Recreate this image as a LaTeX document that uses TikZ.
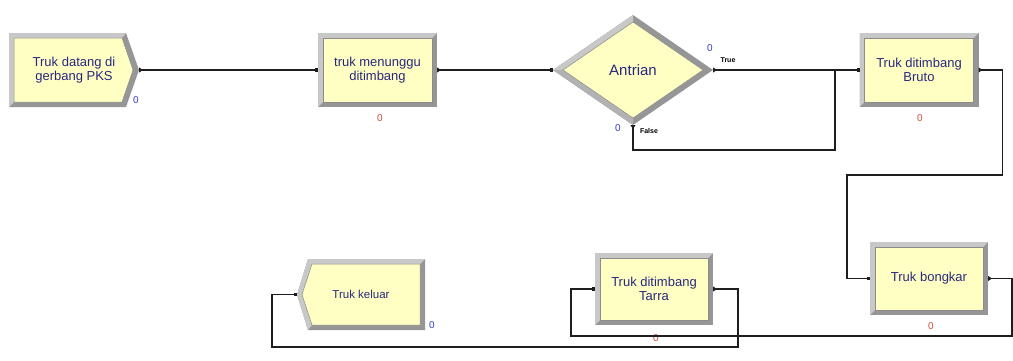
\documentclass[tikz,border=0pt]{standalone}
\usepackage{fontspec}
\setmainfont{Liberation Sans}
\usetikzlibrary{arrows.meta,backgrounds}

\definecolor{boxyellow}{HTML}{FFFFC4}
\definecolor{bevlight}{HTML}{C8C8C8}
\definecolor{bevmid}{HTML}{B2B2B2}
\definecolor{bevdark}{HTML}{969696}
\definecolor{bevedge}{HTML}{8C8C8C}
\definecolor{labelnavy}{HTML}{28287F}
\definecolor{cntblue}{HTML}{3A3ACF}
\definecolor{cntred}{HTML}{D04A3A}
\definecolor{wiregray}{HTML}{1E1E1E}

% bevelled frame behind a rectangular module node
\newcommand\moduleframe[1]{%
  \fill[bevdark] (#1.north west) rectangle (#1.south east);
  \fill[bevlight] (#1.north west) -- (#1.north east) -- ([shift={(-5,5)}]#1.north east)
    -- ([shift={(5,5)}]#1.north west) -- ([shift={(5,-5)}]#1.south west) -- (#1.south west) -- cycle;
  \filldraw[fill=boxyellow, draw=bevedge, line width=0.5pt]
    ([shift={(5,5)}]#1.north west) rectangle ([shift={(-5,-5)}]#1.south east);
}

\begin{document}
\begin{tikzpicture}[x=1pt,y=-1pt,
  module/.style={rectangle, minimum width=119pt, minimum height=74pt, inner sep=0pt,
    outer sep=0pt, align=center, text=labelnavy, font=\fontsize{13}{13.5}\selectfont},
  wire/.style={draw=wiregray, line width=1.2pt},
  conn/.style={wire, {Triangle[reversed, length=4pt, width=5pt]}-{Square[length=3pt, width=3.5pt]}},
  connopen/.style={wire, {Triangle[reversed, length=4pt, width=5pt]}-},
  cntb/.style={text=cntblue, font=\fontsize{10}{10}\selectfont, inner sep=0pt},
  cntr/.style={text=cntred, font=\fontsize{10}{10}\selectfont, inner sep=0pt},
  branch/.style={text=black, font=\fontsize{7}{7}\selectfont\bfseries, inner sep=0pt}]
\useasboundingbox (0,0) rectangle (1013,360);

% ---- modules ----
\node[module, minimum width=130pt] (arrive) at (74,70) {Truk datang di\\gerbang PKS};
\node[module] (menunggu) at (377.5,70) {truk menunggu\\ditimbang};
\node[module, minimum width=160pt, minimum height=110pt,
      font=\fontsize{15}{15}\selectfont] (decide) at (633,70) {Antrian};
\node[module] (bruto) at (919,70) {Truk ditimbang\\Bruto};
\node[module, minimum width=118pt, minimum height=73pt] (bongkar) at (929,278.5) {Truk bongkar};
\node[module, minimum width=118pt, minimum height=72pt] (tarra) at (654,289) {Truk ditimbang\\Tarra};
\node[module, minimum width=128pt, minimum height=71pt,
      font=\fontsize{11.5}{12}\selectfont] (leave) at (361,294.5) {Truk keluar};

\begin{scope}[on background layer]
  % arrival: pentagon pointing right
  \fill[bevdark] (arrive.north west) -- ([xshift=-13pt]arrive.north east) -- (arrive.east)
    -- ([xshift=-13pt]arrive.south east) -- (arrive.south west) -- cycle;
  \fill[bevlight] (arrive.north west) -- ([xshift=-13pt]arrive.north east)
    -- ([shift={(-17,5)}]arrive.north east) -- ([shift={(5,5)}]arrive.north west)
    -- ([shift={(5,-5)}]arrive.south west) -- (arrive.south west) -- cycle;
  \filldraw[fill=boxyellow, draw=bevedge, line width=0.5pt]
    ([shift={(5,5)}]arrive.north west) -- ([shift={(-17,5)}]arrive.north east)
    -- ([xshift=-6pt]arrive.east) -- ([shift={(-17,-5)}]arrive.south east)
    -- ([shift={(5,-5)}]arrive.south west) -- cycle;

  % processes
  \moduleframe{menunggu}
  \moduleframe{bruto}
  \moduleframe{bongkar}
  \moduleframe{tarra}

  % decision diamond
  \fill[bevdark] (decide.north) -- (decide.east) -- (decide.south) -- (decide.west) -- cycle;
  \fill[bevlight] (decide.west) -- (decide.north) -- ([yshift=-7pt]decide.north)
    -- ([xshift=10pt]decide.west) -- cycle;
  \fill[bevmid] (decide.west) -- (decide.south) -- ([yshift=7pt]decide.south)
    -- ([xshift=10pt]decide.west) -- cycle;
  \filldraw[fill=boxyellow, draw=bevedge, line width=0.5pt]
    ([yshift=-7pt]decide.north) -- ([xshift=-10pt]decide.east)
    -- ([yshift=7pt]decide.south) -- ([xshift=10pt]decide.west) -- cycle;

  % departure: notched on the left
  \fill[bevdark] ([xshift=11pt]leave.north west) -- (leave.north east) -- (leave.south east)
    -- ([xshift=11pt]leave.south west) -- (leave.west) -- cycle;
  \fill[bevlight] ([xshift=11pt]leave.north west) -- (leave.north east)
    -- ([shift={(-5,5)}]leave.north east) -- ([shift={(15,5)}]leave.north west)
    -- ([xshift=5pt]leave.west) -- ([shift={(15,-5)}]leave.south west)
    -- ([xshift=11pt]leave.south west) -- (leave.west) -- cycle;
  \filldraw[fill=boxyellow, draw=bevedge, line width=0.5pt]
    ([shift={(15,5)}]leave.north west) -- ([shift={(-5,5)}]leave.north east)
    -- ([shift={(-5,-5)}]leave.south east) -- ([shift={(15,-5)}]leave.south west)
    -- ([xshift=5pt]leave.west) -- cycle;
\end{scope}

% ---- counters ----
\node[cntb] (arrive-n) at (136,100) {0};
\node[cntr] (menunggu-n) at (380,118) {0};
\node[cntb] (decide-true-n) at (710,48) {0};
\node[cntb] (decide-false-n) at (618,128) {0};
\node[cntr] (bruto-n) at (920,118) {0};
\node[cntr] (bongkar-n) at (931,326) {0};
\node[cntr] (tarra-n) at (656,338) {0};
\node[cntb] (leave-n) at (432,325) {0};

% ---- branch labels ----
\node[branch] (true-lbl) at (728,60) {True};
\node[branch] (false-lbl) at (649,131) {False};

% ---- connectors ----
\coordinate (merge) at (835,70);
\draw[conn] (arrive.east) -- (menunggu.west);
\draw[conn] (menunggu.east) -- (decide.west);
\draw[conn] (decide.east) -- (bruto.west);
\draw[connopen] (decide.south) -- ++(0,25) -| (merge);
\draw[conn] (bruto.east) -- ++(24,0) -- ++(0,105) -| ([xshift=-23pt]bongkar.west) -- (bongkar.west);
\draw[conn] (bongkar.east) -- ++(24,0) |- (571,336) |- (tarra.west);
\draw[conn] (tarra.east) -- ++(25,0) |- (272,347) |- (leave.west);
\end{tikzpicture}
\end{document}
